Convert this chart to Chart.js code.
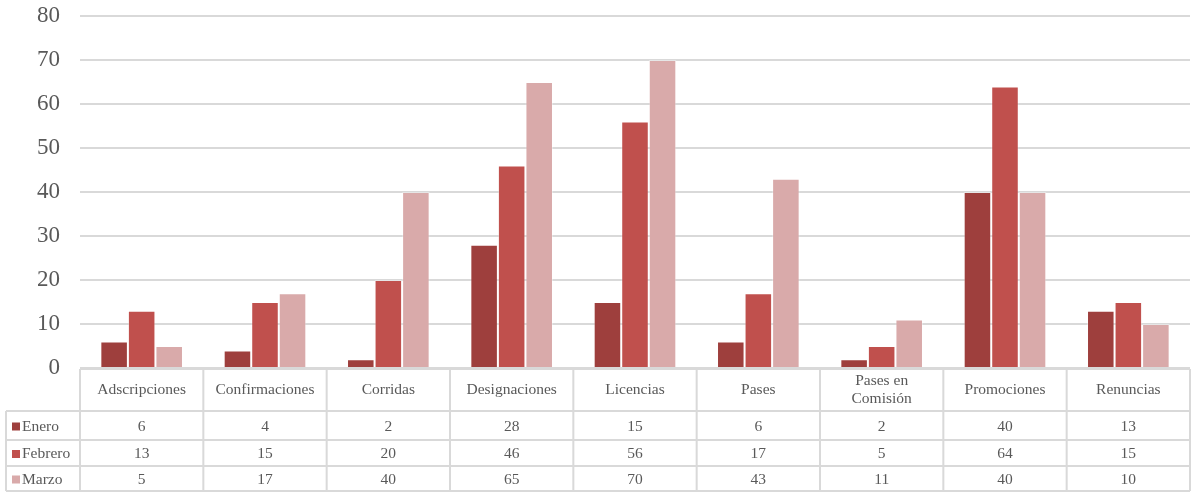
<!DOCTYPE html>
<html>
<head>
<meta charset="utf-8">
<script src="https://cdn.jsdelivr.net/npm/chart.js@4/dist/chart.umd.min.js"></script>
<style>
  html, body { margin: 0; padding: 0; background: #fff; }
  #wrap { width: 1195px; height: 493px; position: relative; }
</style>
</head>
<body>
<div id="wrap"><canvas id="c" width="1195" height="493"></canvas></div>
<script>
const categories = ["Adscripciones", "Confirmaciones", "Corridas", "Designaciones", "Licencias", "Pases", ["Pases en", "Comisión"], "Promociones", "Renuncias"];
const enero   = [6, 4, 2, 28, 15, 6, 2, 40, 13];
const febrero = [13, 15, 20, 46, 56, 17, 5, 64, 15];
const marzo   = [5, 17, 40, 65, 70, 43, 11, 40, 10];
const seriesNames = ["Enero", "Febrero", "Marzo"];
const seriesColors = ["#9E3F3D", "#C0504D", "#D9AAAA"];
const yTicks = [0, 10, 20, 30, 40, 50, 60, 70, 80];

const FONT = "'Liberation Serif', 'Times New Roman', serif";
const TEXT = "#595959";
const LINE = "#D9D9D9";

// Data table drawn underneath the plot, aligned on the category scale
const dataTable = {
  id: 'dataTable',
  afterDraw(chart) {
    const ctx = chart.ctx;
    const x = chart.scales.x;
    const area = chart.chartArea;
    const n = categories.length;
    const step = (area.right - area.left) / n;
    const top = area.bottom + 1;
    const rows = [top, top + 42, top + 71, top + 97, top + 122];
    const leftEdge = 6;
    const values = [enero, febrero, marzo];

    ctx.save();
    ctx.strokeStyle = LINE;
    ctx.lineWidth = 2;
    // horizontal rules
    ctx.beginPath();
    ctx.moveTo(area.left, rows[0]); ctx.lineTo(area.right, rows[0]);
    for (let r = 1; r < rows.length; r++) {
      ctx.moveTo(leftEdge, rows[r]); ctx.lineTo(area.right, rows[r]);
    }
    // vertical rules
    for (let i = 0; i <= n; i++) {
      const vx = area.left + i * step;
      ctx.moveTo(vx, rows[0]); ctx.lineTo(vx, rows[4]);
    }
    ctx.moveTo(leftEdge, rows[1]); ctx.lineTo(leftEdge, rows[4]);
    ctx.stroke();

    ctx.fillStyle = TEXT;
    ctx.textAlign = 'center';
    ctx.textBaseline = 'middle';
    ctx.font = "15.5px " + FONT;
    // category header row
    categories.forEach((c, i) => {
      const cx = x.getPixelForValue(i);
      const cy = (rows[0] + rows[1]) / 2;
      if (Array.isArray(c)) {
        ctx.fillText(c[0], cx, cy - 9);
        ctx.fillText(c[1], cx, cy + 9);
      } else {
        ctx.fillText(c, cx, cy);
      }
    });
    // value rows with legend keys
    values.forEach((vals, r) => {
      const cy = (rows[r + 1] + rows[r + 2]) / 2 + 1;
      vals.forEach((v, i) => {
        ctx.fillText(String(v), x.getPixelForValue(i), cy);
      });
      ctx.fillStyle = seriesColors[r];
      ctx.fillRect(12, cy - 4, 8, 8);
      ctx.fillStyle = TEXT;
      ctx.textAlign = 'left';
      ctx.fillText(seriesNames[r], 22, cy);
      ctx.textAlign = 'center';
    });
    ctx.restore();
  }
};

new Chart(document.getElementById('c'), {
  type: 'bar',
  data: {
    labels: categories,
    datasets: seriesNames.map((name, k) => ({
      label: name,
      data: [enero, febrero, marzo][k],
      backgroundColor: seriesColors[k],
      borderColor: 'rgba(255,255,255,0.35)',
      borderWidth: 1,
      categoryPercentage: 0.67,
      barPercentage: 1.0
    }))
  },
  options: {
    responsive: false,
    animation: false,
    layout: { padding: { left: 0, right: 5, top: 16, bottom: 125 } },
    plugins: { legend: { display: false }, tooltip: { enabled: false } },
    scales: {
      x: {
        display: false,
        grid: { display: false }
      },
      y: {
        min: 0,
        max: 80,
        afterFit(scale) {
          scale.width = 80;
          scale.paddingTop = 0;
          scale.paddingBottom = 0;
        },
        afterBuildTicks(scale) { scale.ticks = yTicks.map(v => ({ value: v })); },
        border: { display: false },
        grid: { color: LINE, lineWidth: 2, drawTicks: false },
        ticks: {
          color: TEXT,
          font: { family: FONT, size: 23 },
          padding: 20
        }
      }
    }
  },
  plugins: [dataTable]
});
</script>
</body>
</html>
